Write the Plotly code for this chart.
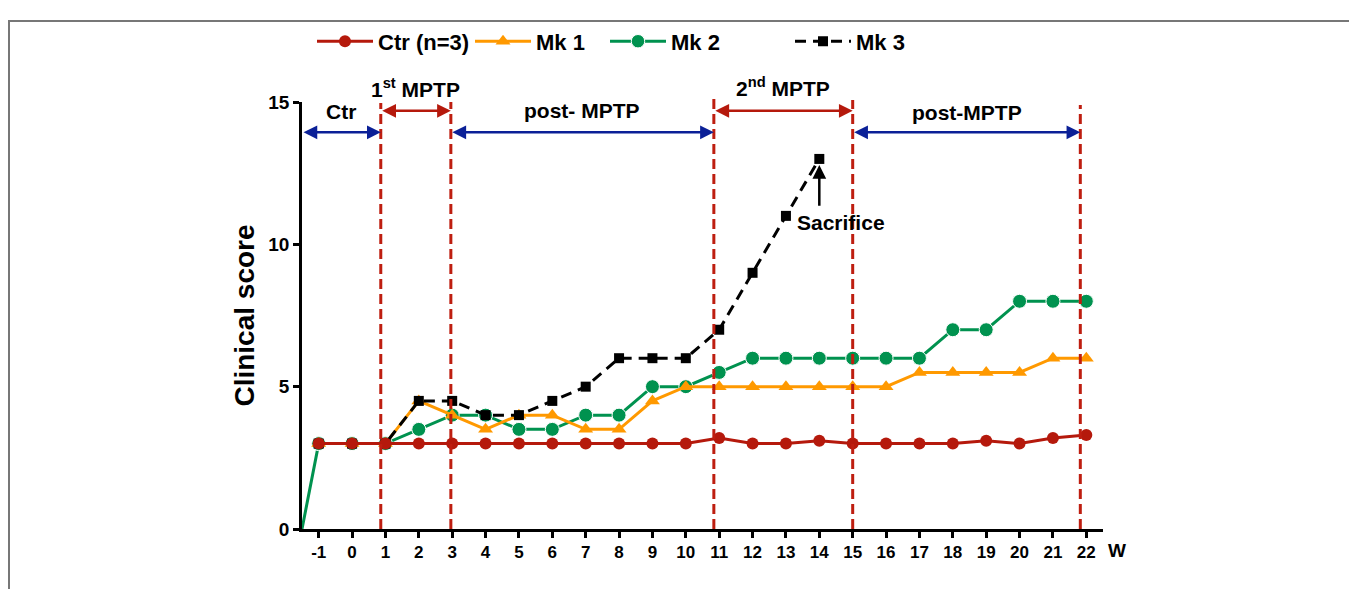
import plotly.graph_objects as go

# ---------------- data ----------------
weeks = list(range(-1, 23))
ctr = [3, 3, 3, 3, 3, 3, 3, 3, 3, 3, 3, 3, 3.2, 3, 3, 3.1, 3, 3, 3, 3, 3.1, 3, 3.2, 3.3]
mk1 = [3, 3, 3, 4.5, 4, 3.5, 4, 4, 3.5, 3.5, 4.5, 5, 5, 5, 5, 5, 5, 5, 5.5, 5.5, 5.5, 5.5, 6, 6]
mk2_weeks = [-1.5] + weeks
mk2 = [0, 3, 3, 3, 3.5, 4, 4, 3.5, 3.5, 4, 4, 5, 5, 5.5, 6, 6, 6, 6, 6, 6, 7, 7, 8, 8, 8]
mk3_weeks = list(range(-1, 15))
mk3 = [3, 3, 3, 4.5, 4.5, 4, 4, 4.5, 5, 6, 6, 6, 7, 9, 11, 13]

x_ticks = list(range(-1, 23))
y_ticks = [0, 5, 10, 15]

# phase boundaries (weeks) and labels
bounds = [-1.5, 0.86, 2.96, 10.84, 15.0, 21.82]
phase_labels = ["Ctr", "1<sup>st</sup> MPTP", "post- MPTP", "2<sup>nd</sup> MPTP", "post-MPTP"]
phase_kinds = ["blue", "red", "blue", "red", "blue"]

# ---------------- style ----------------
RED = "#B5190C"
DASH_RED = "#BE1E10"
ORANGE = "#FF9900"
GREEN = "#00924F"
BLUE = "#0B2097"
FONT = "Arial, Liberation Sans, sans-serif"

# page offset (default body margin) and figure geometry (px)
OFF = 8
W, H = 1357 - OFF, 589 - OFF
L = 302 - OFF
T = 92 - OFF
B = H - (529 - OFF)
R = W - (1103 - OFF)
PH = H - T - B
PW = W - L - R


def py(pix):  # page pixel row -> paper y
    return (H - B - (pix - OFF)) / PH


def px(pix):  # page pixel col -> paper x
    return ((pix - OFF) - L) / PW


fig = go.Figure()

fig.add_trace(go.Scatter(
    x=mk2_weeks, y=mk2, mode="lines+markers", name="Mk 2",
    line=dict(color=GREEN, width=3),
    marker=dict(symbol="circle", size=[0] + [14] * len(weeks), color=GREEN, opacity=1),
    legend="legend3", cliponaxis=False))
fig.add_trace(go.Scatter(
    x=weeks, y=mk1, mode="lines+markers", name="Mk 1",
    line=dict(color=ORANGE, width=3),
    marker=dict(symbol="triangle-up", size=13, color=ORANGE, opacity=1),
    legend="legend2", cliponaxis=False))
fig.add_trace(go.Scatter(
    x=mk3_weeks, y=mk3, mode="lines+markers", name="Mk 3",
    line=dict(color="black", width=3, dash="11px,7px"),
    marker=dict(symbol="square", size=10, color="black", opacity=1),
    legend="legend4", cliponaxis=False))
fig.add_trace(go.Scatter(
    x=weeks, y=ctr, mode="lines+markers", name="Ctr (n=3)",
    line=dict(color=RED, width=3),
    marker=dict(symbol="circle", size=12, color=RED, opacity=1),
    legend="legend", cliponaxis=False))

shapes = []
annotations = []

# dashed vertical phase lines
tops = [93, 92, 87, 90, 95]
for xb, tp in zip(bounds[1:], tops):
    shapes.append(dict(type="line", xref="x", yref="paper", x0=xb, x1=xb,
                       y0=0, y1=py(tp), line=dict(color=DASH_RED, width=3, dash="10px,5px"),
                       layer="above"))

# double-headed phase arrows and labels
arrow_rows = {"blue": 123, "red": 101}
label_rows = [102, 78, 101, 77, 103]
for i, (lab, kind) in enumerate(zip(phase_labels, phase_kinds)):
    x0, x1 = bounds[i], bounds[i + 1]
    col = BLUE if kind == "blue" else RED
    annotations.append(dict(
        x=x1, y=py(arrow_rows[kind]), xref="x", yref="paper",
        ax=x0, ay=0, axref="x", ayref="pixel", text="", showarrow=True,
        arrowhead=2, arrowside="end+start", arrowsize=1.1, arrowwidth=2.5,
        arrowcolor=col, standoff=0, startstandoff=0))
    annotations.append(dict(
        x=(x0 + x1) / 2, y=py(label_rows[i]), xref="x", yref="paper",
        text=lab, showarrow=False, font=dict(family=FONT, size=21, color="black", weight="bold"),
        xanchor="center", yanchor="middle"))

# sacrifice annotations
annotations.append(dict(x=14, y=13, xref="x", yref="y", ax=14, ay=11.3, axref="x", ayref="y",
                        text="", showarrow=True, arrowhead=2, arrowsize=1.1, arrowwidth=2.5,
                        arrowcolor="black", standoff=6))
annotations.append(dict(x=14.65, y=10.75, xref="x", yref="y", text="Sacrifice", showarrow=False,
                        xanchor="center", yanchor="middle",
                        font=dict(family=FONT, size=21, color="black", weight="bold")))
annotations.append(dict(x=22.63, y=6.8, xref="x", yref="y", text="Sacrifice", showarrow=False,
                        textangle=90, xanchor="center", yanchor="middle",
                        font=dict(family=FONT, size=21, color="black", weight="bold")))
# axis unit "W"
annotations.append(dict(x=px(1117), y=py(551), xref="paper", yref="paper", text="W", showarrow=False,
                        xanchor="center", yanchor="middle",
                        font=dict(family=FONT, size=19, color="black", weight="bold")))

# outer frame
shapes.append(dict(type="rect", xref="paper", yref="paper", x0=px(OFF + 1), x1=px(1356),
                   y0=py(620), y1=py(OFF + 1), line=dict(color="#777777", width=2), layer="below"))

legend_font = dict(family=FONT, size=22, color="black", weight="bold")
leg_common = dict(orientation="h", yanchor="middle", xanchor="left", y=py(30),
                  font=legend_font, bgcolor="rgba(0,0,0,0)", itemwidth=56)

fig.update_layout(
    width=W, height=H,
    margin=dict(l=L, r=R, t=T, b=B, pad=0),
    paper_bgcolor="white", plot_bgcolor="white",
    font=dict(family=FONT, color="black", size=17, weight="bold"),
    showlegend=True,
    legend=dict(x=px(312), **leg_common),
    legend2=dict(x=px(470), **leg_common),
    legend3=dict(x=px(605), **leg_common),
    legend4=dict(x=px(790), **leg_common),
    shapes=shapes, annotations=annotations,
    xaxis=dict(range=[-1.5, 22.5], tickvals=x_ticks, ticktext=[str(v) for v in x_ticks],
               showgrid=False, zeroline=False, showline=True, linecolor="black", linewidth=2.5,
               ticks="outside", ticklen=6, tickwidth=2.5, tickcolor="black",
               tickfont=dict(family=FONT, size=17, color="black", weight="bold")),
    yaxis=dict(range=[0, 15], tickvals=y_ticks, showgrid=False, zeroline=False,
               showline=True, linecolor="black", linewidth=2.5,
               ticks="outside", ticklen=6, tickwidth=2.5, tickcolor="black",
               tickfont=dict(family=FONT, size=19, color="black", weight="bold"),
               title=dict(text="Clinical score", standoff=6,
                          font=dict(family=FONT, size=28, color="black", weight="bold"))),
)

fig.write_html("out.html")
